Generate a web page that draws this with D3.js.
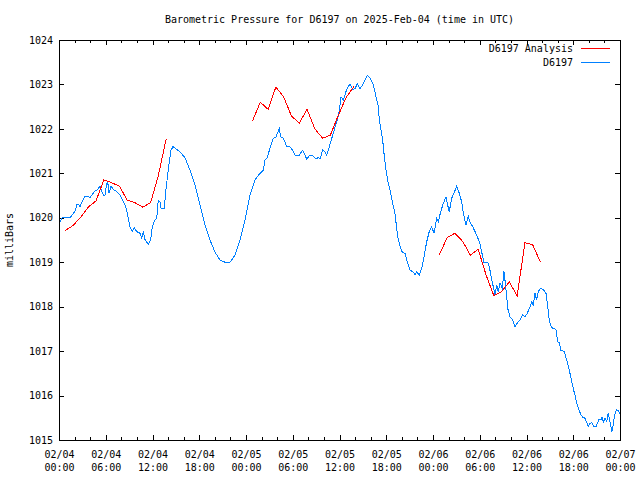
<!DOCTYPE html>
<html>
<head>
<meta charset="utf-8">
<script src="https://cdn.jsdelivr.net/npm/d3@7"></script>
<style>
html,body{margin:0;padding:0;background:#fff;}
svg{display:block;}
text{font-family:"DejaVu Sans Mono","Liberation Mono",monospace;font-size:10px;fill:#000;}
</style>
</head>
<body>
<svg id="chart" width="640" height="480"></svg>
<script>
// ---------------- DATA ----------------
const titleText = "Barometric Pressure for D6197 on 2025-Feb-04 (time in UTC)";
const yLabel = "milliBars";
const startTime = "2025-02-04T00:00:00Z";
const endTime = "2025-02-07T00:00:00Z";
const yTicks = [1015, 1016, 1017, 1018, 1019, 1020, 1021, 1022, 1023, 1024];
const seriesNames = ["D6197 Analysis", "D6197"];

// Observations: hours after start and pressure (mb)
const obsHours = [0.13,0.42,1.41,1.84,2.14,2.27,2.48,2.70,2.91,3.34,3.76,3.98,4.20,4.62,4.97,5.26,5.48,5.69,5.90,6.12,6.25,6.42,6.67,6.97,7.41,7.83,8.25,8.56,8.82,9.11,9.41,9.66,9.97,10.40,10.61,10.82,11.04,11.46,11.77,11.97,12.32,12.54,12.74,12.96,13.09,13.51,13.73,14.03,14.37,14.63,15.02,15.53,16.17,16.81,17.45,18.09,18.74,19.38,20.02,20.66,21.30,21.95,22.59,23.23,23.87,24.51,25.15,25.80,26.22,26.44,26.66,27.08,27.50,27.85,28.27,28.45,28.79,29.22,29.65,29.99,30.29,30.84,31.28,31.57,31.79,32.21,32.64,32.98,33.28,33.50,33.84,34.14,34.36,34.56,34.87,35.20,35.64,35.97,36.19,36.49,36.83,37.13,37.35,37.69,37.99,38.28,38.63,38.98,39.27,39.57,39.91,40.34,40.77,40.98,41.11,41.32,41.54,41.71,41.97,42.26,42.57,42.83,43.12,43.34,43.55,43.98,44.40,44.70,45.05,45.47,45.69,45.91,46.24,46.55,46.84,47.19,47.52,47.83,48.13,48.47,48.68,48.99,49.32,49.67,49.83,50.09,50.40,50.69,51.04,51.37,51.68,51.89,52.23,52.53,52.75,53.09,53.39,53.68,54.03,54.38,54.54,54.80,55.10,55.31,55.53,55.74,55.96,56.17,56.38,56.60,56.89,57.11,57.28,57.46,57.59,57.88,58.23,58.52,58.82,59.16,59.51,59.80,60.10,60.45,60.66,60.87,61.09,61.30,61.51,61.82,62.15,62.50,62.67,62.89,63.10,63.36,63.78,64.00,64.21,64.42,64.85,65.16,65.45,65.71,66.00,66.22,66.44,66.74,66.96,67.21,67.51,67.73,67.93,68.15,68.37,68.66,68.92,69.09,69.31,69.53,69.69,69.87,70.08,70.30,70.47,70.62,70.84,70.97,71.10,71.27,71.53,71.77,71.99];
const obsPressure = [1019.90,1020.00,1020.00,1020.10,1020.17,1020.30,1020.30,1020.25,1020.34,1020.49,1020.49,1020.45,1020.51,1020.60,1020.64,1020.71,1020.60,1020.51,1020.51,1020.77,1020.81,1020.55,1020.71,1020.64,1020.59,1020.51,1020.36,1020.25,1020.06,1019.80,1019.70,1019.78,1019.69,1019.65,1019.54,1019.69,1019.51,1019.40,1019.50,1019.80,1019.95,1019.99,1020.40,1020.36,1020.22,1020.22,1020.63,1021.10,1021.52,1021.60,1021.55,1021.48,1021.35,1021.07,1020.74,1020.29,1019.84,1019.50,1019.23,1019.05,1019.00,1019.00,1019.16,1019.50,1019.95,1020.51,1020.85,1021.00,1021.07,1021.30,1021.33,1021.56,1021.79,1021.82,1022.00,1021.82,1021.79,1021.61,1021.59,1021.52,1021.41,1021.41,1021.52,1021.41,1021.32,1021.41,1021.39,1021.32,1021.36,1021.32,1021.52,1021.48,1021.41,1021.52,1021.71,1021.90,1022.16,1022.39,1022.72,1022.65,1022.84,1022.95,1023.01,1022.88,1022.91,1023.01,1022.91,1022.99,1023.10,1023.21,1023.14,1022.99,1022.66,1022.50,1022.20,1021.98,1021.75,1021.45,1021.07,1020.78,1020.55,1020.32,1020.10,1019.76,1019.50,1019.24,1019.20,1019.01,1018.82,1018.78,1018.71,1018.78,1018.71,1018.86,1019.12,1019.46,1019.69,1019.80,1019.65,1019.99,1019.91,1020.14,1020.32,1020.47,1020.32,1020.14,1020.44,1020.55,1020.72,1020.55,1020.36,1020.10,1019.84,1020.03,1019.91,1019.80,1019.69,1019.58,1019.42,1019.12,1018.98,1018.99,1018.98,1018.82,1018.60,1018.45,1018.26,1018.49,1018.34,1018.53,1018.42,1018.79,1018.53,1018.22,1017.96,1017.77,1017.70,1017.55,1017.63,1017.70,1017.81,1017.77,1017.85,1018.00,1018.11,1018.04,1018.30,1018.15,1018.34,1018.41,1018.39,1018.30,1018.08,1017.74,1017.57,1017.51,1017.49,1017.21,1017.19,1017.02,1016.99,1016.80,1016.61,1016.39,1016.16,1016.01,1015.83,1015.67,1015.58,1015.51,1015.49,1015.39,1015.30,1015.37,1015.39,1015.30,1015.30,1015.37,1015.47,1015.45,1015.51,1015.41,1015.49,1015.41,1015.60,1015.49,1015.30,1015.19,1015.30,1015.52,1015.68,1015.67,1015.60];

// Analysis: three hourly runs, each starting at the given time
const analysisStarts = ["2025-02-04T00:45:00Z", "2025-02-05T00:50:00Z", "2025-02-06T00:48:00Z"];
const analysisRun1 = [1019.71,1019.82,1020.00,1020.24,1020.38,1020.85,1020.79,1020.71,1020.40,1020.34,1020.24,1020.34,1020.95,1021.77];
const analysisRun2 = [1022.18,1022.60,1022.44,1022.94,1022.72,1022.29,1022.13,1022.44,1022.00,1021.79,1021.86,1022.30,1022.70,1022.95];
const analysisRun3 = [1019.16,1019.55,1019.65,1019.47,1019.16,1019.29,1018.72,1018.25,1018.34,1018.56,1018.24,1019.44,1019.39,1019.00];

// ---------------- CHART ----------------
const W = 640, H = 480;
const m = {left: 59, right: 20, top: 40, bottom: 40};
const svg = d3.select("#chart");

const t0 = new Date(startTime), t1 = new Date(endTime);
const x = d3.scaleUtc().domain([t0, t1]).range([m.left, W - m.right]);
const y = d3.scaleLinear().domain([1015, 1024]).range([H - m.bottom, m.top]);

const majorTicks = d3.utcHour.every(6).range(t0, new Date(+t1 + 1));
const minorTicks = d3.utcHour.every(2).range(t0, new Date(+t1 + 1)).filter(d => d.getUTCHours() % 6 !== 0);

const fmtDate = d3.utcFormat("%m/%d"), fmtTime = d3.utcFormat("%H:%M");

function clean(g) { g.select(".domain").remove(); g.selectAll("line").attr("stroke", "#000").attr("shape-rendering", "crispEdges"); }

// bottom major
const gxb = svg.append("g").attr("transform", `translate(0,${H - m.bottom})`)
  .call(d3.axisBottom(x).tickValues(majorTicks).tickSize(-5).tickPadding(10).tickFormat(d => ""))
  .call(clean);
gxb.selectAll(".tick text").attr("font-family", null).attr("font-size", null)
  .each(function(d) {
    const t = d3.select(this).attr("dy", null).attr("y", 18);
    t.append("tspan").attr("x", 0).attr("y", 18).text(fmtDate(d));
    t.append("tspan").attr("x", 0).attr("y", 31).text(fmtTime(d));
  });
svg.append("g").attr("transform", `translate(0,${H - m.bottom})`)
  .call(d3.axisBottom(x).tickValues(minorTicks).tickSize(-3).tickFormat(() => "")).call(clean);
// top mirror
svg.append("g").attr("transform", `translate(0,${m.top})`)
  .call(d3.axisTop(x).tickValues(majorTicks).tickSize(-5).tickFormat(() => "")).call(clean);
svg.append("g").attr("transform", `translate(0,${m.top})`)
  .call(d3.axisTop(x).tickValues(minorTicks).tickSize(-3).tickFormat(() => "")).call(clean);
// left
const gyl = svg.append("g").attr("transform", `translate(${m.left},0)`)
  .call(d3.axisLeft(y).tickValues(yTicks).tickSize(-5).tickPadding(6).tickFormat(d3.format("d")))
  .call(clean);
gyl.selectAll(".tick text").attr("font-family", null).attr("font-size", null);
// right mirror
svg.append("g").attr("transform", `translate(${W - m.right},0)`)
  .call(d3.axisRight(y).tickValues(yTicks).tickSize(-5).tickFormat(() => "")).call(clean);

// border
svg.append("rect").attr("x", m.left + 0.5).attr("y", m.top + 0.5)
  .attr("width", W - m.left - m.right).attr("height", H - m.top - m.bottom)
  .attr("fill", "none").attr("stroke", "#000").attr("shape-rendering", "crispEdges");

// series
const line = d3.line().x(d => x(d.t)).y(d => y(d.v));
const obs = obsHours.map((h, i) => ({t: new Date(+t0 + h * 3600e3), v: obsPressure[i]}));
svg.append("path").datum(obs).attr("d", line)
  .attr("fill", "none").attr("stroke", "#0080ff").attr("stroke-width", 1)
  .attr("shape-rendering", "crispEdges");

[analysisRun1, analysisRun2, analysisRun3].forEach((run, k) => {
  const s = new Date(analysisStarts[k]);
  const pts = run.map((v, i) => ({t: new Date(+s + i * 3600e3), v}));
  svg.append("path").datum(pts).attr("d", line)
    .attr("fill", "none").attr("stroke", "#ff0000").attr("stroke-width", 1)
    .attr("shape-rendering", "crispEdges");
});

// title & y label
svg.append("text").attr("x", (m.left + W - m.right) / 2).attr("y", 23)
  .attr("text-anchor", "middle").text(titleText);
svg.append("text").attr("transform", `translate(13,${(m.top + H - m.bottom) / 2}) rotate(-90)`)
  .attr("text-anchor", "middle").text(yLabel);

// legend
const legend = svg.append("g");
const legColors = ["#ff0000", "#0080ff"];
seriesNames.forEach((n, i) => {
  const ly = 48 + i * 14;
  legend.append("text").attr("x", 573).attr("y", ly).attr("dy", "0.35em")
    .attr("text-anchor", "end").text(n);
  legend.append("line").attr("x1", 581).attr("x2", 610).attr("y1", ly + 0.5).attr("y2", ly + 0.5)
    .attr("stroke", legColors[i]).attr("stroke-width", 1).attr("shape-rendering", "crispEdges");
});
</script>
</body>
</html>
